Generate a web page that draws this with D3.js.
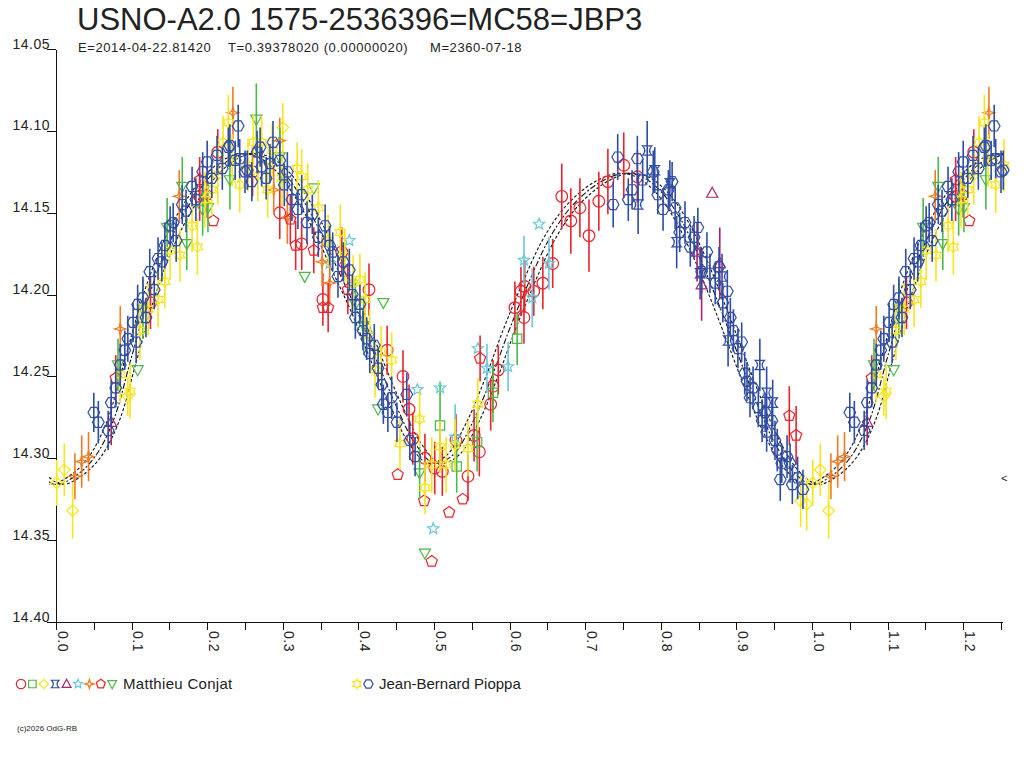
<!DOCTYPE html>
<html><head><meta charset="utf-8">
<script src="https://cdn.jsdelivr.net/npm/d3@7"></script>
<style>
body{margin:0;background:#fff}
svg{display:block;font-family:"Liberation Sans",Arial,sans-serif}
</style>
</head><body>
<svg id="c" width="1024" height="768"></svg>
<script>
// ---------------- DATA ----------------
const titleText = "USNO-A2.0 1575-2536396=MC58=JBP3";
const subEpoch = "E=2014-04-22.81420";
const subPeriod = "T=0.39378020 (0.00000020)";
const subMod = "M=2360-07-18";
const footerText = "(c)2026 OdG-RB";
const yTicks = [14.05,14.10,14.15,14.20,14.25,14.30,14.35,14.40];
const xMajorTicks = [0,0.1,0.2,0.3,0.4,0.5,0.6,0.7,0.8,0.9,1.0,1.1,1.2];
const xTickLabels = ["0.0","0.1","0.2","0.3","0.4","0.5","0.6","0.7","0.8","0.9","1.0","1.1","1.2"];
const xMinorTicks = [0.05,0.15,0.25,0.35,0.45,0.55,0.65,0.75,0.85,0.95,1.05,1.15,1.25];
const observers = ["Matthieu Conjat","Jean-Bernard Pioppa"];

// model light curve (phase, mag)
const modelPhase = [0,0.025,0.05,0.075,0.1,0.125,0.15,0.175,0.2,0.225,0.25,0.275,0.3,0.325,0.35,0.375,0.4,0.425,0.45,0.475,0.5,
  0.525,0.55,0.575,0.6,0.625,0.65,0.675,0.7,0.725,0.75,0.775,0.8,0.825,0.85,0.875,0.9,0.925,0.95,0.975,1.0];
const modelMag = [14.316,14.311,14.300,14.278,14.238,14.198,14.168,14.146,14.130,14.119,14.114,14.116,14.125,14.141,14.162,14.187,14.212,14.241,14.268,14.291,14.303,
  14.298,14.279,14.252,14.221,14.193,14.168,14.150,14.138,14.130,14.126,14.128,14.137,14.153,14.176,14.204,14.234,14.264,14.290,14.308,14.316];
const bandPhaseShift = 0.008;

// observations [phase, mag, error]
const mcCircle = [
[0.125,14.205,0.016],[0.190,14.140,0.015],[0.214,14.113,0.014],[0.260,14.125,0.015],[0.296,14.150,0.016],
[0.325,14.169,0.016],[0.353,14.203,0.016],[0.378,14.174,0.015],[0.414,14.197,0.016],[0.438,14.234,0.015],
[0.459,14.250,0.016],[0.467,14.270,0.015],[0.472,14.288,0.016],[0.488,14.300,0.015],[0.501,14.306,0.016],
[0.511,14.308,0.015],[0.529,14.289,0.016],[0.545,14.311,0.015],[0.553,14.286,0.016],[0.560,14.296,0.015],
[0.575,14.267,0.016],[0.578,14.256,0.016],[0.585,14.246,0.015],[0.607,14.208,0.016],[0.615,14.198,0.015],
[0.619,14.214,0.016],[0.620,14.195,0.016],[0.632,14.198,0.015],[0.644,14.193,0.016],[0.657,14.181,0.015],
[0.669,14.140,0.020],[0.681,14.155,0.020],[0.693,14.147,0.018],[0.705,14.164,0.022],[0.718,14.143,0.018],
[0.730,14.131,0.020],[0.751,14.121,0.020],[0.769,14.128,0.016]];
const mcSquare = [[0.508,14.280,0.025],[0.530,14.305,0.016],[0.557,14.290,0.018],[0.578,14.260,0.018],[0.610,14.227,0.016]];
const mcDiamond = [[0.001,14.315,0.014],[0.011,14.307,0.016],[0.022,14.332,0.017],[0.095,14.262,0.012],[0.300,14.098,0.015],
[0.985,14.326,0.016],[0.993,14.328,0.016]];
const mcBowtie = [[0.770,14.145,0.018],[0.782,14.112,0.018],[0.792,14.124,0.014],[0.812,14.132,0.014],[0.821,14.168,0.016],
[0.852,14.187,0.016],[0.881,14.189,0.014],[0.889,14.228,0.016],[0.931,14.243,0.016],[0.940,14.260,0.016],[0.948,14.266,0.014]];
const mcTriangle = [[0.073,14.278,0.014],[0.848,14.174,0.018],[0.854,14.194,0.022],[0.868,14.138,0],[0.878,14.181,0.022]];
const mcStar = [[0.362,14.181,0.014],[0.388,14.167,0],[0.478,14.258,0],[0.499,14.343,0],[0.508,14.257,0],[0.528,14.287,0.020],
[0.558,14.233,0],[0.570,14.245,0.015],[0.598,14.244,0.015],[0.619,14.179,0.015],[0.630,14.202,0.018],[0.639,14.157,0],[0.652,14.181,0.016]];
const mcSparkle = [[0.025,14.311,0.014],[0.034,14.302,0.016],[0.043,14.299,0.015],[0.085,14.221,0.014],[0.163,14.140,0.016],
[0.234,14.089,0.016],[0.288,14.136,0.015],[0.296,14.106,0.014],[0.306,14.153,0.016],[0.352,14.180,0.015],[0.362,14.193,0.014]];
const mcPentagon = [[0.079,14.251,0.014],[0.190,14.130,0.014],[0.200,14.139,0.014],[0.208,14.155,0],[0.310,14.154,0.015],
[0.317,14.170,0.015],[0.341,14.173,0.014],[0.353,14.208,0],[0.360,14.208,0.015],[0.386,14.197,0.015],[0.452,14.310,0],
[0.487,14.326,0],[0.497,14.363,0],[0.520,14.333,0],[0.538,14.325,0],[0.561,14.239,0.014],[0.970,14.274,0.018],[0.979,14.286,0.018]];
const mcDownTri = [[0.082,14.243,0.016],[0.108,14.246,0],[0.115,14.209,0.018],[0.147,14.159,0.018],[0.167,14.134,0.018],
[0.173,14.169,0.016],[0.194,14.148,0.016],[0.201,14.147,0.015],[0.230,14.130,0.018],[0.265,14.093,0.022],[0.296,14.116,0.018],
[0.329,14.189,0],[0.341,14.135,0],[0.396,14.206,0.016],[0.407,14.219,0.018],[0.426,14.270,0],[0.433,14.205,0],
[0.481,14.309,0.016],[0.488,14.358,0]];
const jbpStar = [
[0.085,14.249,0.017],[0.098,14.259,0.017],[0.111,14.222,0.018],[0.122,14.209,0.016],[0.135,14.203,0.017],
[0.144,14.192,0.016],[0.151,14.173,0.018],[0.164,14.176,0.016],[0.180,14.158,0.016],[0.187,14.171,0.017],
[0.197,14.142,0.017],[0.206,14.136,0.016],[0.214,14.127,0.018],[0.221,14.107,0.016],[0.228,14.095,0.017],
[0.233,14.118,0.016],[0.243,14.133,0.017],[0.254,14.121,0.016],[0.261,14.107,0.017],[0.267,14.127,0.016],
[0.272,14.107,0.016],[0.280,14.136,0.017],[0.286,14.112,0.016],[0.299,14.129,0.017],[0.319,14.123,0.016],
[0.325,14.128,0.017],[0.333,14.136,0.016],[0.347,14.147,0.017],[0.360,14.167,0.016],[0.376,14.162,0.017],
[0.382,14.176,0.016],[0.393,14.193,0.017],[0.402,14.191,0.016],[0.409,14.203,0.017],[0.415,14.225,0.016],
[0.422,14.246,0.017],[0.430,14.235,0.016],[0.444,14.240,0.017],[0.455,14.291,0.016],[0.481,14.276,0.017],
[0.488,14.318,0.016],[0.497,14.304,0.017],[0.508,14.293,0.016],[0.516,14.304,0.017],[0.528,14.292,0.016],
[0.545,14.294,0.017],[0.558,14.267,0.016]];
const jbpHex = [
[0.050,14.272,0.012],[0.056,14.278,0.013],[0.069,14.283,0.012],[0.073,14.266,0.014],[0.079,14.257,0.012],
[0.085,14.243,0.013],[0.091,14.234,0.012],[0.095,14.227,0.014],[0.102,14.217,0.012],[0.106,14.229,0.013],
[0.108,14.206,0.012],[0.115,14.202,0.013],[0.119,14.214,0.012],[0.124,14.186,0.014],[0.130,14.197,0.012],
[0.135,14.178,0.013],[0.140,14.180,0.012],[0.144,14.170,0.014],[0.151,14.158,0.012],[0.155,14.156,0.012],
[0.159,14.167,0.013],[0.167,14.145,0.012],[0.172,14.149,0.013],[0.180,14.134,0.012],[0.185,14.142,0.013],
[0.194,14.125,0.012],[0.200,14.119,0.013],[0.206,14.129,0.012],[0.213,14.115,0.012],[0.220,14.123,0.013],
[0.228,14.110,0.012],[0.230,14.109,0.013],[0.237,14.118,0.012],[0.241,14.097,0.013],[0.243,14.117,0.012],
[0.250,14.125,0.013],[0.253,14.124,0.012],[0.259,14.131,0.012],[0.266,14.113,0.013],[0.270,14.110,0.012],
[0.272,14.122,0.012],[0.278,14.129,0.013],[0.283,14.120,0.012],[0.287,14.107,0.013],[0.296,14.118,0.012],
[0.302,14.133,0.013],[0.306,14.125,0.012],[0.312,14.142,0.013],[0.320,14.148,0.012],[0.325,14.139,0.012],
[0.332,14.156,0.013],[0.339,14.151,0.012],[0.347,14.165,0.012],[0.356,14.158,0.013],[0.362,14.170,0.012],
[0.366,14.174,0.012],[0.373,14.189,0.013],[0.380,14.180,0.012],[0.388,14.185,0.013],[0.392,14.200,0.012],
[0.396,14.214,0.013],[0.402,14.206,0.012],[0.406,14.222,0.012],[0.411,14.227,0.013],[0.415,14.236,0.012],
[0.421,14.231,0.013],[0.426,14.245,0.012],[0.431,14.255,0.013],[0.433,14.267,0.012],[0.439,14.272,0.012],
[0.444,14.263,0.013],[0.451,14.278,0.012],[0.464,14.261,0.013],[0.468,14.289,0.012],[0.475,14.299,0.012],
[0.737,14.145,0.014],[0.743,14.116,0.014],[0.757,14.142,0.013],[0.762,14.136,0.012],[0.769,14.117,0.014],
[0.776,14.130,0.013],[0.790,14.125,0.013],[0.796,14.139,0.012],[0.803,14.148,0.013],[0.810,14.136,0.012],
[0.815,14.131,0.012],[0.819,14.147,0.013],[0.825,14.162,0.012],[0.832,14.156,0.013],[0.839,14.171,0.012],
[0.844,14.165,0.013],[0.849,14.159,0.012],[0.854,14.186,0.013],[0.861,14.174,0.012],[0.865,14.187,0.012],
[0.872,14.193,0.013],[0.877,14.183,0.012],[0.882,14.205,0.012],[0.888,14.198,0.013],[0.892,14.214,0.012],
[0.896,14.222,0.013],[0.902,14.233,0.012],[0.907,14.229,0.012],[0.911,14.248,0.013],[0.914,14.253,0.012],
[0.918,14.263,0.012],[0.922,14.257,0.013],[0.929,14.269,0.012],[0.934,14.277,0.013],[0.938,14.272,0.012],
[0.940,14.284,0.012],[0.947,14.277,0.013],[0.951,14.289,0.012],[0.954,14.295,0.013],[0.958,14.313,0.013],
[0.960,14.303,0.012],[0.967,14.299,0.013],[0.971,14.303,0.012],[0.974,14.316,0.012],[0.981,14.312,0.013],
[0.988,14.319,0.012]];
const repeatBelow = 0.257; // phases shown again one cycle later

// ---------------- SHAPES ----------------
function poly(c, pts){ c.moveTo(pts[0][0],pts[0][1]); for(let i=1;i<pts.length;i++) c.lineTo(pts[i][0],pts[i][1]); c.closePath(); }
function starPts(n, ro, ri, rot){ const p=[]; for(let i=0;i<2*n;i++){ const a=rot+i*Math.PI/n, r=i%2?ri:ro; p.push([r*Math.cos(a), r*Math.sin(a)]);} return p; }
function ngon(n, r, rot){ const p=[]; for(let i=0;i<n;i++){ const a=rot+i*2*Math.PI/n; p.push([r*Math.cos(a), r*Math.sin(a)]);} return p; }
const shapes = {
  circle:{draw(c,s){const r=Math.sqrt(s); c.moveTo(r,0); c.arc(0,0,r,0,2*Math.PI);}},
  square:{draw(c,s){const r=Math.sqrt(s)*0.8; c.rect(-r,-r,2*r,2*r);}},
  diamond:{draw(c,s){const r=Math.sqrt(s); poly(c,[[0,-r],[r,0],[0,r],[-r,0]]);}},
  bowtie:{draw(c,s){const r=Math.sqrt(s)*0.8; c.moveTo(-r,-r); c.lineTo(r,-r); c.quadraticCurveTo(0,0,r,r); c.lineTo(-r,r); c.quadraticCurveTo(0,0,-r,-r); c.closePath();}},
  triangle:{draw(c,s){const r=Math.sqrt(s); poly(c,[[0,-r],[0.95*r,0.72*r],[-0.95*r,0.72*r]]);}},
  star5:{draw(c,s){const r=Math.sqrt(s); poly(c, starPts(5,r,0.45*r,-Math.PI/2));}},
  sparkle:{draw(c,s){const r=Math.sqrt(s); poly(c, starPts(4,r,0.32*r,-Math.PI/2));}},
  pentagon:{draw(c,s){const r=Math.sqrt(s); poly(c, ngon(5,r,-Math.PI/2));}},
  downtri:{draw(c,s){const r=Math.sqrt(s); poly(c,[[-0.95*r,-0.72*r],[0.95*r,-0.72*r],[0,r]]);}},
  star6:{draw(c,s){const r=Math.sqrt(s); poly(c, starPts(6,r,0.58*r,-Math.PI/2));}},
  hex:{draw(c,s){const r=Math.sqrt(s); poly(c, ngon(6,r,0));}}
};
const RED="#e8232c", GREEN="#4cb848", YELLOW="#f7e51a", BLUE="#2f4ca6", PURPLE="#a3246f", CYAN="#66c8da", ORANGE="#f07a22";
const mcSeries = [
  {data:mcCircle, shape:"circle", color:RED},
  {data:mcSquare, shape:"square", color:GREEN},
  {data:mcDiamond, shape:"diamond", color:YELLOW},
  {data:mcBowtie, shape:"bowtie", color:BLUE},
  {data:mcTriangle, shape:"triangle", color:PURPLE},
  {data:mcStar, shape:"star5", color:CYAN},
  {data:mcSparkle, shape:"sparkle", color:ORANGE},
  {data:mcPentagon, shape:"pentagon", color:RED},
  {data:mcDownTri, shape:"downtri", color:GREEN}
];
const jbpSeries = [
  {data:jbpStar, shape:"star6", color:YELLOW},
  {data:jbpHex, shape:"hex", color:BLUE}
];

// ---------------- CHART ----------------
const svg = d3.select("#c");
const x = d3.scaleLinear().domain([0,1.25]).range([56,1001]);
const y = d3.scaleLinear().domain([14.05,14.40]).range([49,622]);

svg.append("text").attr("x",77).attr("y",30).attr("font-size",31).attr("fill","#222").text(titleText);
const sub = svg.append("g").attr("font-size",13).attr("fill","#222").attr("letter-spacing",0.6);
sub.append("text").attr("x",78).attr("y",52).text(subEpoch);
sub.append("text").attr("x",228).attr("y",52).text(subPeriod);
sub.append("text").attr("x",430).attr("y",52).text(subMod);

// axes
const yAxis = d3.axisLeft(y).tickValues(yTicks).tickSize(9).tickSizeOuter(0).tickFormat(d3.format(".2f"));
const gy = svg.append("g").attr("transform","translate(56,0)").call(yAxis);
gy.selectAll("text").attr("x",-6).attr("dy",-1).attr("font-size",14).attr("letter-spacing",0.5)
  .attr("fill","#222").attr("font-family","Liberation Sans, Arial, sans-serif");
const xAxis = d3.axisBottom(x).tickValues(xMajorTicks.concat(xMinorTicks)).tickSize(8).tickSizeOuter(0)
  .tickFormat(d => { const i = xMajorTicks.indexOf(d); return i >= 0 ? xTickLabels[i] : ""; });
const gx = svg.append("g").attr("transform","translate(0,622)").call(xAxis);
gx.selectAll("text").attr("transform","rotate(90)").attr("x",9).attr("y",-1).attr("dy",0)
  .style("text-anchor","start").attr("font-size",14).attr("fill","#222").attr("letter-spacing",0.5)
  .attr("font-family","Liberation Sans, Arial, sans-serif");
[gx, gy].forEach(g => { g.selectAll("path,line").attr("stroke","#111").attr("shape-rendering","crispEdges"); });
gx.select(".domain").attr("d","M56,0.5H1003");

// model curves
svg.append("defs").append("clipPath").attr("id","clipc").append("rect").attr("x",49).attr("y",0).attr("width",955).attr("height",768);
function extendedModel(shift){
  const pts = [];
  [-1,0,1].forEach(k => modelPhase.forEach((p,i) => {
    if (k > -1 && i === 0) return;
    const ph = p + k + shift;
    if (ph > -0.08 && ph < 1.32) pts.push([ph, modelMag[i]]);
  }));
  return pts;
}
const line = d3.line().x(d => x(d[0])).y(d => y(d[1])).curve(d3.curveCatmullRom);
const curveG = svg.append("g").attr("clip-path","url(#clipc)").attr("fill","none").attr("stroke","#111").attr("stroke-width",1.1);
curveG.append("path").attr("d", line(extendedModel(-bandPhaseShift))).attr("stroke-dasharray","3,2");
curveG.append("path").attr("d", line(extendedModel(bandPhaseShift))).attr("stroke-dasharray","3,2");
curveG.append("path").attr("d", line(extendedModel(0))).attr("stroke-dasharray","6,2,2,2");
svg.append("text").attr("x",1001).attr("y",482).attr("font-size",11).attr("fill","#222").text("<");

// observations
function expand(data){
  return data.concat(data.filter(d => d[0] < repeatBelow).map(d => [d[0]+1, d[1], d[2]]));
}
const pointsG = svg.append("g");
mcSeries.concat(jbpSeries).forEach(s => {
  const pts = expand(s.data);
  const g = pointsG.append("g");
  g.selectAll("line").data(pts.filter(d => d[2] > 0)).join("line")
    .attr("x1", d => x(d[0])).attr("x2", d => x(d[0]))
    .attr("y1", d => y(d[1]-d[2])).attr("y2", d => y(d[1]+d[2]))
    .attr("stroke", s.color).attr("stroke-width",1.6);
  g.selectAll("path").data(pts).join("path")
    .attr("transform", d => `translate(${x(d[0])},${y(d[1])})`)
    .attr("d", d3.symbol().type(shapes[s.shape]).size(34))
    .attr("fill","none").attr("stroke", s.color).attr("stroke-width",1.2);
});

// legend
const leg = svg.append("g");
const legSym = d3.symbol().size(22);
mcSeries.forEach((s,i) => {
  leg.append("path").attr("transform",`translate(${21 + i*11.4},684)`)
    .attr("d", legSym.type(shapes[s.shape])()).attr("fill","none").attr("stroke",s.color).attr("stroke-width",1.2);
});
leg.append("text").attr("x",123).attr("y",689).attr("font-size",15).attr("letter-spacing",0.3).attr("fill","#222").text(observers[0]);
jbpSeries.forEach((s,i) => {
  leg.append("path").attr("transform",`translate(${357 + i*11.4},684)`)
    .attr("d", legSym.type(shapes[s.shape])()).attr("fill","none").attr("stroke",s.color).attr("stroke-width",1.2);
});
leg.append("text").attr("x",379).attr("y",689).attr("font-size",15).attr("fill","#222").text(observers[1]);

svg.append("text").attr("x",17).attr("y",731).attr("font-size",8).attr("fill","#222").text(footerText);
</script>
</body></html>
